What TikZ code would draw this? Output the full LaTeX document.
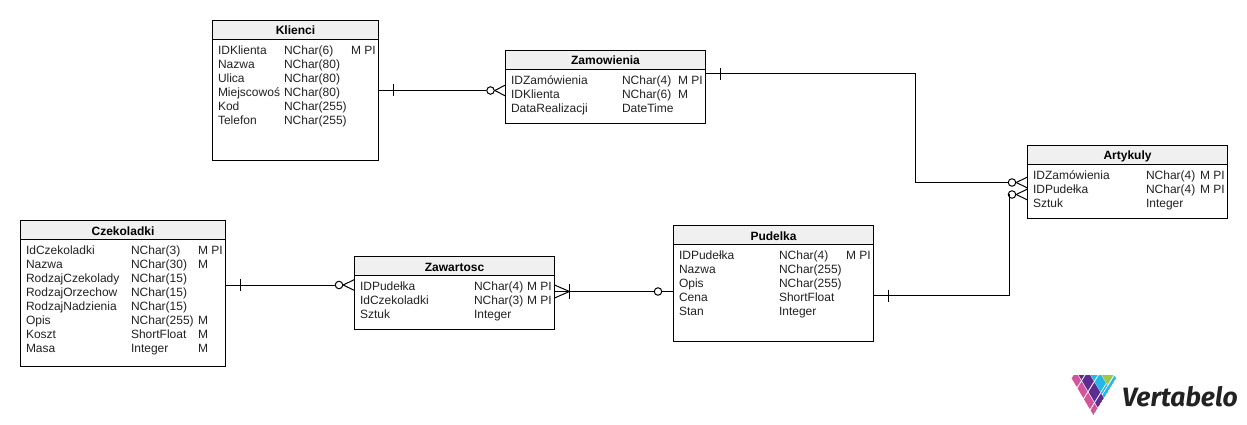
\documentclass[tikz,border=0pt]{standalone}
\usepackage{fontspec}
\setmainfont{Liberation Sans}
\newfontfamily\logofont{Fira Sans}
\definecolor{headgray}{HTML}{F0F0F0}
\definecolor{textgray}{HTML}{222222}
\definecolor{logopink}{HTML}{D2559B}
\definecolor{logopurple}{HTML}{5C2D91}
\definecolor{logoblue}{HTML}{25B7E8}
\definecolor{logogreen}{HTML}{9CC84B}
\tikzset{
	tablebox/.style={draw=black,line width=1pt,fill=white,anchor=north west,inner sep=0,outer sep=0},
	headbox/.style={draw=black,line width=1pt,fill=headgray,anchor=north west,inner sep=0,outer sep=0,text height=10pt,text depth=0pt,font=\fontsize{12}{14}\selectfont\bfseries,text=black},
	fieldtext/.style={anchor=base west,inner sep=0,outer sep=0,font=\fontsize{12}{14}\selectfont,text=textgray},
	link/.style={line width=1pt},
	ring/.style={circle,draw=black,line width=1pt,fill=white,minimum size=7.5pt,inner sep=0},
}
% name, title, left, top, width, header height, height
\newcommand{\erdtable}[7]{
	\node[tablebox,minimum width=#5pt,minimum height=#7pt] (#1) at (#3,#4) {};
	\node[headbox,minimum width=#5pt,minimum height=#6pt] (#1-head) at (#3,#4) {#2};
}
% name, three columns, baseline of first row, rows
\newcommand{\erdrows}[6]{
	\foreach \fname/\ftype/\fflag [count=\n from 0] in {#6} {
		\node[fieldtext] (#1-name-\n) at (#2,{#5+14*\n}) {\fname};
		\node[fieldtext] (#1-type-\n) at (#3,{#5+14*\n}) {\ftype};
		\node[fieldtext] (#1-flag-\n) at (#4,{#5+14*\n}) {\fflag};
	}
}
% colour, band from, band to, cell from, cell to
\newcommand{\logocell}[5]{
	\fill[#1] (#2,#4) -- (#3,#4) -- (#3,#5) -- (#2,#5) -- cycle;
}
\begin{document}
\begin{tikzpicture}[x=1pt,y=-1pt]
	\useasboundingbox (0,0) rectangle (1247,425);

	% tables
	\erdtable{klienci}{Klienci}{212.5}{20.5}{166}{19}{140}
	\erdrows{klienci}{218}{284}{351}{54.5}{IDKlienta/NChar(6)/M PI,Nazwa/NChar(80)/,Ulica/NChar(80)/,Miejscowoś/NChar(80)/,Kod/NChar(255)/,Telefon/NChar(255)/}

	\erdtable{zamowienia}{Zamowienia}{505.5}{50.5}{200}{19}{73}
	\erdrows{zamowienia}{511}{622}{678}{84.5}{IDZamówienia/NChar(4)/M PI,IDKlienta/NChar(6)/M,DataRealizacji/DateTime/}

	\erdtable{artykuly}{Artykuly}{1027.5}{145.5}{200}{19}{73}
	\erdrows{artykuly}{1033}{1146}{1200}{179.5}{IDZamówienia/NChar(4)/M PI,IDPudełka/NChar(4)/M PI,Sztuk/Integer/}

	\erdtable{zawartosc}{Zawartosc}{354.5}{256.5}{200}{19}{73}
	\erdrows{zawartosc}{360}{474}{527}{290.5}{IDPudełka/NChar(4)/M PI,IdCzekoladki/NChar(3)/M PI,Sztuk/Integer/}

	\erdtable{pudelka}{Pudelka}{673.5}{225.5}{200}{19}{116}
	\erdrows{pudelka}{679}{779}{846}{259.5}{IDPudełka/NChar(4)/M PI,Nazwa/NChar(255)/,Opis/NChar(255)/,Cena/ShortFloat/,Stan/Integer/}

	\erdtable{czekoladki}{Czekoladki}{20.5}{220.5}{205}{19}{146}
	\erdrows{czekoladki}{26}{131}{198}{254.5}{IdCzekoladki/NChar(3)/M PI,Nazwa/NChar(30)/M,RodzajCzekolady/NChar(15)/,RodzajOrzechow/NChar(15)/,RodzajNadzienia/NChar(15)/,Opis/NChar(255)/M,Koszt/ShortFloat/M,Masa/Integer/M}

	% Klienci -- Zamowienia
	\coordinate (kz) at (klienci.east |- 0,90.5);
	\node[ring] (kzring) at (490.5,90.5) {};
	\draw[link] (kz) -- (kzring);
	\draw[link] (393,84.5) -- (393,96.5);
	\draw[link] (kzring.east) -- (zamowienia.west |- 0,85);
	\draw[link] (kzring.east) -- (zamowienia.west |- 0,96);

	% Zamowienia -- Artykuly
	\coordinate (za) at (zamowienia.east |- 0,74);
	\node[ring] (zaring) at (1012,182.5) {};
	\draw[link] (za) -| (915.5,182.5) -- (zaring);
	\draw[link] (720,68) -- (720,80);
	\draw[link] (zaring.east) -- (artykuly.west |- 0,177);
	\draw[link] (zaring.east) -- (artykuly.west |- 0,188);

	% Pudelka -- Artykuly
	\coordinate (pa) at (pudelka.east |- 0,295.5);
	\node[ring] (paring) at (1012,194.5) {};
	\draw[link] (pa) -| (1009,194.5) -- (paring);
	\draw[link] (888,289.5) -- (888,301.5);
	\draw[link] (paring.east) -- (artykuly.west |- 0,189);
	\draw[link] (paring.east) -- (artykuly.west |- 0,200);

	% Czekoladki -- Zawartosc
	\coordinate (cz) at (czekoladki.east |- 0,285);
	\node[ring] (czring) at (339,285) {};
	\draw[link] (cz) -- (czring);
	\draw[link] (240.5,279) -- (240.5,291);
	\draw[link] (czring.east) -- (zawartosc.west |- 0,279.5);
	\draw[link] (czring.east) -- (zawartosc.west |- 0,290.5);

	% Zawartosc -- Pudelka
	\coordinate (zp) at (zawartosc.east |- 0,291.5);
	\node[ring] (zpring) at (658,291.5) {};
	\draw[link] (zp) -- (zpring);
	\draw[link] (zpring) -- (pudelka.west |- zpring);
	\draw[link] (569.5,284) -- (569.5,299);
	\draw[link] (569.5,291.5) -- (zawartosc.east |- 0,285);
	\draw[link] (569.5,291.5) -- (zawartosc.east |- 0,298);

	% logo
	\begin{scope}[shift={(1093.33,415)},x={(-21.67pt,36.67pt)},y={(22.67pt,36.67pt)}]
		\clip (0,0) -- (1,0) -- (1,.09) -- (.09,1) -- (0,1) -- cycle;
		\foreach \sa/\sb in {0/.13,.16/.43,.46/.73,.76/1} {
			\logocell{logopink}{\sa}{\sb}{0}{.18}
			\logocell{logopurple}{\sa}{\sb}{.2}{.46}
			\logocell{logoblue}{\sa}{\sb}{.47}{.71}
		}
		\logocell{white}{.07}{.1}{.47}{1}
		\logocell{logoblue}{0}{.07}{.47}{1}
		\logocell{logoblue}{.1}{.13}{.47}{.7}
		\logocell{logogreen}{.1}{.43}{.72}{1}
	\end{scope}
	\node[anchor=base west,inner sep=0,text=textgray,font=\logofont\fontsize{26.5}{30}\selectfont\bfseries\itshape] (logotext) at (1122,406) {Vertabelo};
\end{tikzpicture}
\end{document}
